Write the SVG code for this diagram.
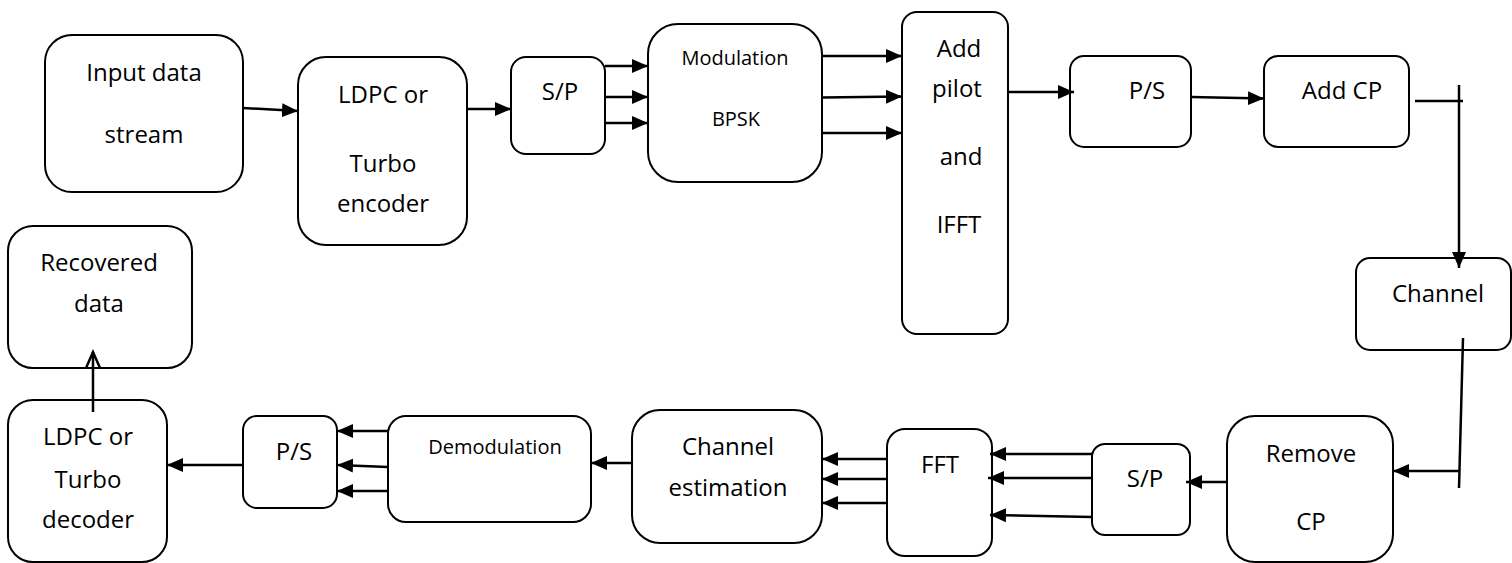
<svg xmlns="http://www.w3.org/2000/svg" width="1512" height="563" viewBox="0 0 1512 563">
<defs>
<style>
.box{fill:#fff;stroke:#000;stroke-width:2}
.t{font-family:"Open Sans","Liberation Sans",sans-serif;font-size:24px;fill:#000;text-anchor:middle}
.s{font-size:20px}
.c{stroke:#000;stroke-width:2.5;fill:none}
.a{marker-end:url(#ah)}
</style>
<marker id="ah" markerUnits="userSpaceOnUse" markerWidth="18" markerHeight="16" refX="16" refY="8" orient="auto">
<path d="M0,1 L16,8 L0,15 z" fill="#000"/>
</marker>
</defs>
<rect width="1512" height="563" fill="#fff"/>

<g id="input"><rect class="box" x="45" y="35" width="198" height="157" rx="27"/>
<text class="t" x="144" y="81">Input data</text><text class="t" x="144" y="143">stream</text></g>

<g id="encoder"><rect class="box" x="298" y="57" width="169" height="188" rx="28"/>
<text class="t" x="383" y="103">LDPC or</text><text class="t" x="383" y="172">Turbo</text><text class="t" x="383" y="212">encoder</text></g>

<g id="sp1"><rect class="box" x="511" y="57" width="94" height="97" rx="15"/>
<text class="t" x="560" y="100">S/P</text></g>

<g id="mod"><rect class="box" x="648" y="24" width="174" height="158" rx="30"/>
<text class="t s" x="735" y="65">Modulation</text><text class="t s" x="736" y="126">BPSK</text></g>

<g id="ifft"><rect class="box" x="902" y="12" width="106" height="322" rx="15"/>
<text class="t" x="959" y="57">Add</text><text class="t" x="957" y="97">pilot</text><text class="t" x="961" y="165">and</text><text class="t" x="959" y="233">IFFT</text></g>

<g id="ps1"><rect class="box" x="1070" y="56" width="121" height="91" rx="14"/>
<text class="t" x="1147" y="99">P/S</text></g>

<g id="addcp"><rect class="box" x="1264" y="56" width="145" height="91" rx="14"/>
<text class="t" x="1342" y="99">Add CP</text></g>

<g id="channel"><rect class="box" x="1356" y="258" width="155" height="92" rx="14"/>
<text class="t" x="1438" y="302">Channel</text></g>

<g id="removecp"><rect class="box" x="1227" y="416" width="166" height="146" rx="28"/>
<text class="t" x="1311" y="462">Remove</text><text class="t" x="1311" y="530">CP</text></g>

<g id="sp2"><rect class="box" x="1092" y="444" width="98" height="91" rx="13"/>
<text class="t" x="1145" y="487">S/P</text></g>

<g id="fft"><rect class="box" x="887" y="429" width="105" height="127" rx="18"/>
<text class="t" x="940" y="473">FFT</text></g>

<g id="chest"><rect class="box" x="632" y="410" width="190" height="133" rx="28"/>
<text class="t" x="728" y="455">Channel</text><text class="t" x="728" y="496">estimation</text></g>

<g id="demod"><rect class="box" x="388" y="416" width="203" height="106" rx="18"/>
<text class="t s" x="495" y="454">Demodulation</text></g>

<g id="ps2"><rect class="box" x="243" y="416" width="94" height="92" rx="14"/>
<text class="t" x="294" y="460">P/S</text></g>

<g id="decoder"><rect class="box" x="8" y="400" width="159" height="162" rx="25"/>
<text class="t" x="88" y="445">LDPC or</text><text class="t" x="88" y="488">Turbo</text><text class="t" x="88" y="528">decoder</text></g>

<g id="recovered"><rect class="box" x="8" y="226" width="184" height="142" rx="25"/>
<text class="t" x="99" y="271">Recovered</text><text class="t" x="99" y="312">data</text></g>

<g id="connectors">
<line class="c a" x1="243" y1="108" x2="298" y2="111"/>
<line class="c a" x1="467" y1="109" x2="511" y2="109"/>
<line class="c a" x1="605" y1="66" x2="648" y2="66"/>
<line class="c a" x1="605" y1="97" x2="648" y2="97"/>
<line class="c a" x1="605" y1="123" x2="648" y2="123"/>
<line class="c a" x1="822" y1="56" x2="902" y2="56"/>
<line class="c a" x1="822" y1="97.5" x2="902" y2="96.5"/>
<line class="c a" x1="822" y1="133" x2="902" y2="133"/>
<line class="c a" x1="1008" y1="92" x2="1074" y2="92"/>
<line class="c a" x1="1191" y1="97" x2="1264" y2="98.5"/>
<line class="c" x1="1415" y1="101" x2="1463" y2="101"/>
<line class="c a" x1="1459" y1="85" x2="1459" y2="268"/>
<line class="c" x1="1463" y1="338" x2="1459" y2="488"/>
<line class="c a" x1="1460" y1="471" x2="1393" y2="471"/>
<line class="c a" x1="1227" y1="482" x2="1186" y2="482"/>
<line class="c a" x1="1092" y1="454" x2="990" y2="454"/>
<line class="c a" x1="1092" y1="478" x2="988" y2="478"/>
<line class="c a" x1="1092" y1="517" x2="990" y2="515"/>
<line class="c a" x1="887" y1="459" x2="822" y2="459"/>
<line class="c a" x1="887" y1="479" x2="822" y2="479"/>
<line class="c a" x1="887" y1="503" x2="822" y2="503"/>
<line class="c a" x1="632" y1="463" x2="591" y2="463"/>
<line class="c a" x1="388" y1="431" x2="337" y2="431"/>
<line class="c a" x1="388" y1="467" x2="337" y2="465"/>
<line class="c a" x1="388" y1="491" x2="337" y2="491"/>
<line class="c a" x1="243" y1="465" x2="167" y2="465"/>
<line class="c" x1="93" y1="412" x2="93" y2="352"/>
<polyline class="c" points="86,368 93,352 100,368"/>
</g>
</svg>
